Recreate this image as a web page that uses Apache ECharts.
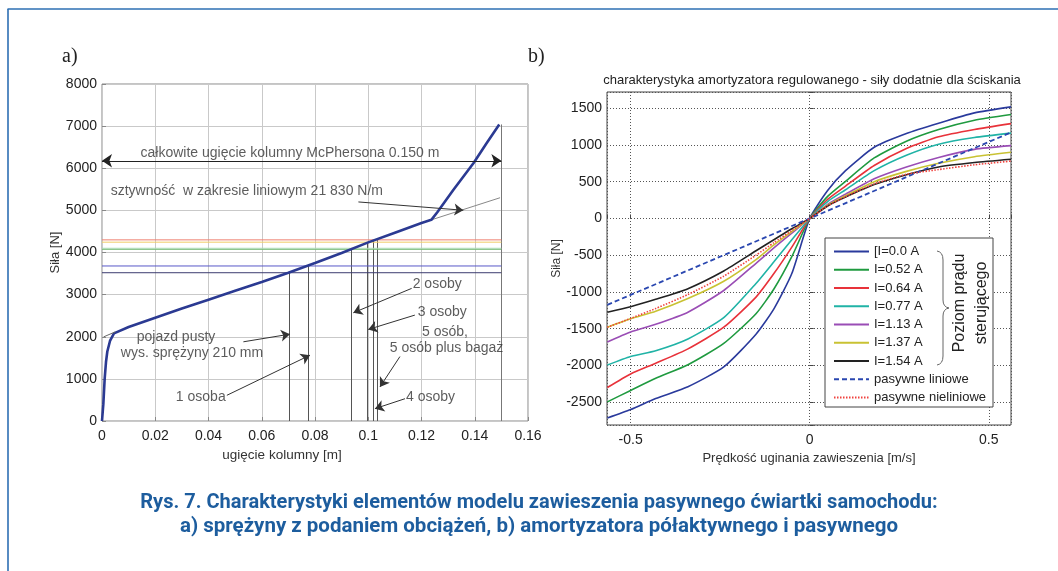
<!DOCTYPE html>
<html><head><meta charset="utf-8">
<script src="https://cdn.jsdelivr.net/npm/echarts@6/dist/echarts.min.js"></script>
<style>html,body{margin:0;padding:0;background:#fff}#c{width:1058px;height:571px}</style>
</head><body><div id="c"></div>
<script>
// ---------- Chart a) spring ----------
const springDefl  = [0, 0.0005, 0.001, 0.0015, 0.002, 0.003, 0.0045, 0.01, 0.02, 0.03, 0.04, 0.05, 0.06, 0.07, 0.08, 0.09, 0.1, 0.11, 0.12, 0.1237, 0.126, 0.132, 0.1395, 0.1445, 0.1492];
const springForce = [0, 400, 1000, 1400, 1650, 1900, 2080, 2230, 2450, 2670, 2880, 3090, 3300, 3520, 3750, 3990, 4240, 4470, 4700, 4775, 4960, 5490, 6120, 6600, 7040];
const tangentDefl  = [0.12, 0.1495];
const tangentForce = [4700, 5300];
const loadLevels   = [3520, 3680, 4075, 4100, 4245, 4300];
const loadDefl     = [0.0704, 0.0773, 0.0937, 0.0996, 0.1019, 0.1035];
const loadDeflForce= [3520, 3680, 4075, 4245, 4290, 4300];
const maxDefl = 0.15;
const totalArrowForce = 6178;
const annTexts = ['całkowite ugięcie kolumny McPhersona 0.150 m', 'sztywność  w zakresie liniowym 21 830 N/m', '2 osoby', '3 osoby', '5 osób,', '5 osób plus bagaż', '4 osoby', '1 osoba', 'pojazd pusty', 'wys. sprężyny 210 mm'];
const annX = [0.0706, 0.0544, 0.1259, 0.1278, 0.1288, 0.1294, 0.1234, 0.0371, 0.0278, 0.0338];
const annY = [6360, 5448, 3243, 2593, 2117, 1721, 571, 571, 1998, 1602];
const arrowFrom = [[0.0963, 5200], [0.1163, 3148], [0.1175, 2514], [0.1119, 1530], [0.1138, 529], [0.0469, 610], [0.0531, 1880]];
const arrowTo   = [[0.1357, 5003], [0.0944, 2569], [0.1, 2173], [0.1044, 809], [0.1025, 293], [0.0781, 1562], [0.0706, 2062]];
const kneeLeader = [[0.0006, 1997], [0.005, 2116]];
const xTicksA = [0, 0.16, 0.02];
const yTicksA = [0, 8000, 1000];

// ---------- Chart b) damper ----------
const velocity = [-0.565, -0.5, -0.43, -0.34, -0.24, -0.15, -0.1, -0.05, 0, 0.05, 0.1, 0.18, 0.27, 0.36, 0.46, 0.562];
const seriesNames = ['[I=0.0 A', 'I=0.52 A', 'I=0.64 A', 'I=0.77 A', 'I=1.13 A', 'I=1.37 A', 'I=1.54 A', 'pasywne liniowe', 'pasywne nieliniowe'];
const fI000 = [-2715, -2600, -2450, -2290, -2020, -1575, -1230, -750, 0, 380, 650, 968, 1155, 1295, 1436, 1518];
const fI052 = [-2495, -2340, -2175, -1990, -1700, -1296, -960, -520, 0, 300, 505, 823, 1050, 1209, 1336, 1414];
const fI064 = [-2300, -2115, -1970, -1775, -1480, -1070, -750, -390, 0, 260, 440, 720, 950, 1110, 1210, 1290];
const fI077 = [-1995, -1878, -1800, -1640, -1350, -885, -590, -290, 0, 230, 390, 650, 860, 1010, 1100, 1160];
const fI113 = [-1680, -1545, -1440, -1275, -980, -610, -400, -200, 0, 190, 330, 540, 700, 830, 940, 990];
const fI137 = [-1480, -1365, -1262, -1090, -855, -560, -360, -180, 0, 180, 310, 500, 640, 750, 840, 900];
const fI154 = [-1275, -1200, -1100, -955, -715, -440, -290, -140, 0, 170, 290, 460, 595, 700, 760, 805];
const fPasNonlin = [-1480, -1360, -1225, -1035, -785, -500, -330, -165, 0, 170, 295, 470, 600, 665, 730, 780];
const pasLinVel = [-0.565, 0, 0.562];
const fPasLin = [-1175, 0, 1170];
const velRange = [-0.566, 0.562];
const forceRange = [-2810, 1720];

// ---------- styles ----------
const FONT = 'Liberation Sans, Arial, sans-serif';
const loadColors = ['#3c3c70', '#5858c8', '#78bb78', '#a8d8b0', '#f0cc66', '#ee7f70'];
const dampColors = ['#2a3a9c', '#1f9a3f', '#e8323a', '#20b3a6', '#9a4db5', '#c9c233', '#222222', '#2a47b0', '#f0423e'];

const zip = (a, b) => a.map((v, i) => [v, b[i]]);
const chart = echarts.init(document.getElementById('c'));

const series = [];
loadLevels.forEach((f, i) => series.push({
  type: 'line', xAxisIndex: 0, yAxisIndex: 0, data: [[0, f], [maxDefl, f]], symbol: 'none', silent: true,
  lineStyle: { color: loadColors[i], width: 1 }, z: 2
}));
series.push({
  type: 'lines', coordinateSystem: 'cartesian2d', xAxisIndex: 0, yAxisIndex: 0, silent: true,
  lineStyle: { color: '#555', width: 1, opacity: 1 }, z: 2,
  data: loadDefl.map((x, i) => ({ coords: [[x, 0], [x, loadDeflForce[i]]] }))
});
series.push({
  type: 'lines', coordinateSystem: 'cartesian2d', xAxisIndex: 0, yAxisIndex: 0, silent: true,
  lineStyle: { color: '#777', width: 1, opacity: 1 }, z: 2,
  data: [{ coords: [[maxDefl, 0], [maxDefl, springForce[springForce.length - 1]]] }]
});
series.push({
  type: 'line', xAxisIndex: 0, yAxisIndex: 0, data: zip(tangentDefl, tangentForce), symbol: 'none', silent: true,
  lineStyle: { color: '#888', width: 1 }, z: 3
});
series.push({
  type: 'line', xAxisIndex: 0, yAxisIndex: 0, data: zip(springDefl, springForce), symbol: 'none', silent: true,
  lineStyle: { color: '#2b3a92', width: 2.6 }, z: 5
});
series.push({
  type: 'lines', coordinateSystem: 'cartesian2d', xAxisIndex: 0, yAxisIndex: 0, silent: true,
  symbol: ['none', 'arrow'], symbolSize: 9,
  lineStyle: { color: '#333', width: 1, opacity: 1 }, z: 6,
  data: arrowFrom.map((p, i) => ({ coords: [p, arrowTo[i]] }))
});
series.push({
  type: 'lines', coordinateSystem: 'cartesian2d', xAxisIndex: 0, yAxisIndex: 0, silent: true,
  symbol: ['arrow', 'arrow'], symbolSize: 10,
  lineStyle: { color: '#222', width: 1, opacity: 1 }, z: 6,
  data: [{ coords: [[0, totalArrowForce], [maxDefl, totalArrowForce]] }]
});
series.push({
  type: 'lines', coordinateSystem: 'cartesian2d', xAxisIndex: 0, yAxisIndex: 0, silent: true,
  lineStyle: { color: '#666', width: 1, opacity: 1 }, z: 6,
  data: [{ coords: kneeLeader }]
});
series.push({
  type: 'scatter', xAxisIndex: 0, yAxisIndex: 0, symbolSize: 0, silent: true, z: 7,
  data: annTexts.map((t, i) => ({ name: t, value: [annX[i], annY[i]] })),
  label: { show: true, position: 'inside', formatter: p => p.name, color: '#333', fontSize: 14, fontFamily: FONT }
});

const dampData = [fI000, fI052, fI064, fI077, fI113, fI137, fI154];
dampData.forEach((arr, i) => series.push({
  name: seriesNames[i], type: 'line', xAxisIndex: 1, yAxisIndex: 1, data: zip(velocity, arr),
  symbol: 'none', smooth: 0.2, silent: true,
  lineStyle: { color: dampColors[i], width: 1.6 }, itemStyle: { color: dampColors[i] }, z: 5
}));
series.push({
  name: seriesNames[7], type: 'line', xAxisIndex: 1, yAxisIndex: 1, data: zip(pasLinVel, fPasLin),
  symbol: 'none', silent: true,
  lineStyle: { color: dampColors[7], width: 1.8, type: [5, 3] }, itemStyle: { color: dampColors[7] }, z: 6
});
series.push({
  name: seriesNames[8], type: 'line', xAxisIndex: 1, yAxisIndex: 1, data: zip(velocity, fPasNonlin),
  symbol: 'none', smooth: 0.2, silent: true,
  lineStyle: { color: dampColors[8], width: 1.6, type: [1.5, 1.5] }, itemStyle: { color: dampColors[8] }, z: 6
});

const on500 = v => Math.abs(v / 500 - Math.round(v / 500)) < 1e-6 ? String(v) : '';
const onHalf = v => Math.abs(v / 0.5 - Math.round(v / 0.5)) < 1e-6 ? String(v) : '';

const braceStyle = { stroke: '#666', lineWidth: 1, fill: null };
const option = {
  animation: false,
  backgroundColor: '#fff',
  textStyle: { fontFamily: FONT },
  title: {
    text: 'charakterystyka amortyzatora regulowanego - siły dodatnie dla ściskania',
    left: 807, top: 69, textAlign: 'center',
    textStyle: { fontSize: 13, fontWeight: 'normal', color: '#222', fontFamily: FONT }
  },
  legend: {
    data: seriesNames, orient: 'vertical', left: 825, top: 238,
    padding: [6.5, 7, 2.5, 8], itemWidth: 35, itemHeight: 2, itemGap: 4.25,
    itemStyle: { opacity: 0 },
    borderColor: '#444', borderWidth: 1, backgroundColor: '#fff',
    textStyle: { fontSize: 13, color: '#222', fontFamily: FONT, lineHeight: 14 },
    selectedMode: false
  },
  grid: [
    { left: 102, top: 84, width: 426, height: 337, show: true, borderColor: '#888', borderWidth: 1, backgroundColor: 'transparent' },
    { left: 607, top: 92, width: 404, height: 333, show: true, borderColor: '#444', borderWidth: 1, backgroundColor: 'transparent' }
  ],
  xAxis: [
    { type: 'value', gridIndex: 0, min: xTicksA[0], max: xTicksA[1], interval: xTicksA[2],
      name: 'ugięcie kolumny [m]', nameLocation: 'middle', nameGap: 27,
      nameTextStyle: { fontSize: 13.5, color: '#333', padding: [0, 66, 0, 0] },
      axisLine: { show: false }, axisTick: { show: true, inside: true, length: 4, lineStyle: { color: '#888' } },
      axisLabel: { fontSize: 14, color: '#222', margin: 8, formatter: v => String(v) },
      splitLine: { show: true, lineStyle: { color: '#c9c9c9', width: 1 } } },
    { type: 'value', gridIndex: 1, min: velRange[0], max: velRange[1], splitNumber: 2,
      name: 'Prędkość uginania zawieszenia [m/s]', nameLocation: 'middle', nameGap: 24,
      nameTextStyle: { fontSize: 13, color: '#333' },
      axisLine: { show: false }, axisTick: { show: true, inside: true, length: 4, lineStyle: { color: '#444' } },
      axisLabel: { fontSize: 14, color: '#222', margin: 8, formatter: onHalf },
      splitLine: { show: true, lineStyle: { color: '#555', width: 1, type: [1, 2] } } }
  ],
  yAxis: [
    { type: 'value', gridIndex: 0, min: yTicksA[0], max: yTicksA[1], interval: yTicksA[2],
      name: 'Siła [N]', nameLocation: 'middle', nameGap: 33,
      nameTextStyle: { fontSize: 13, color: '#333' },
      axisLine: { show: false }, axisTick: { show: true, inside: true, length: 4, lineStyle: { color: '#888' } },
      axisLabel: { fontSize: 14, color: '#222', margin: 5, formatter: v => String(v) },
      splitLine: { show: true, lineStyle: { color: '#c9c9c9', width: 1 } } },
    { type: 'value', gridIndex: 1, min: forceRange[0], max: forceRange[1], splitNumber: 9, minInterval: 500, maxInterval: 500,
      name: 'Siła [N]', nameLocation: 'middle', nameGap: 42,
      nameTextStyle: { fontSize: 12, color: '#333' },
      axisLine: { show: false }, axisTick: { show: true, inside: true, length: 4, lineStyle: { color: '#444' } },
      axisLabel: { fontSize: 14, color: '#222', margin: 5, formatter: on500 },
      splitLine: { show: true, lineStyle: { color: '#555', width: 1, type: [1, 2] } } }
  ],
  graphic: [
    { type: 'line', shape: { x1: 7.5, y1: 9, x2: 1058, y2: 9 }, style: { stroke: '#2d6fb3', lineWidth: 1.6 }, silent: true },
    { type: 'line', shape: { x1: 8, y1: 9, x2: 8, y2: 571 }, style: { stroke: '#2d6fb3', lineWidth: 1.6 }, silent: true },
    { type: 'text', x: 62, y: 57, style: { text: 'a)', font: '20px "Liberation Serif", serif', fill: '#222', verticalAlign: 'middle' } },
    { type: 'text', x: 528, y: 57, style: { text: 'b)', font: '20px "Liberation Serif", serif', fill: '#222', verticalAlign: 'middle' } },
    { type: 'bezierCurve', silent: true, z: 100, shape: { x1: 937, y1: 251, cpx1: 943, cpy1: 252, x2: 943, y2: 260 }, style: braceStyle },
    { type: 'line', silent: true, z: 100, shape: { x1: 943, y1: 260, x2: 943, y2: 300 }, style: braceStyle },
    { type: 'bezierCurve', silent: true, z: 100, shape: { x1: 943, y1: 300, cpx1: 943, cpy1: 307, x2: 949, y2: 308 }, style: braceStyle },
    { type: 'bezierCurve', silent: true, z: 100, shape: { x1: 949, y1: 308, cpx1: 943, cpy1: 309, x2: 943, y2: 316 }, style: braceStyle },
    { type: 'line', silent: true, z: 100, shape: { x1: 943, y1: 316, x2: 943, y2: 356 }, style: braceStyle },
    { type: 'bezierCurve', silent: true, z: 100, shape: { x1: 943, y1: 356, cpx1: 943, cpy1: 364, x2: 937, y2: 365 }, style: braceStyle },
    { type: 'text', x: 960, y: 303, rotation: Math.PI / 2, z: 100,
      style: { text: 'Poziom prądu', font: '16px "Liberation Sans", Arial', fill: '#222', align: 'center', verticalAlign: 'middle' } },
    { type: 'text', x: 982, y: 303, rotation: Math.PI / 2, z: 100,
      style: { text: 'sterującego', font: '16px "Liberation Sans", Arial', fill: '#222', align: 'center', verticalAlign: 'middle' } },
    { type: 'text', x: 539, y: 503, z: 100,
      style: { text: 'Rys. 7. Charakterystyki elementów modelu zawieszenia pasywnego ćwiartki samochodu:', font: 'bold 20px Roboto, sans-serif', fill: '#1d5d9e', align: 'center', verticalAlign: 'middle' } },
    { type: 'text', x: 539, y: 527, z: 100,
      style: { text: 'a) sprężyny z podaniem obciążeń, b) amortyzatora półaktywnego i pasywnego', font: 'bold 20.5px Roboto, sans-serif', fill: '#1d5d9e', align: 'center', verticalAlign: 'middle' } }
  ],
  series: series
};
chart.setOption(option);
</script></body></html>
